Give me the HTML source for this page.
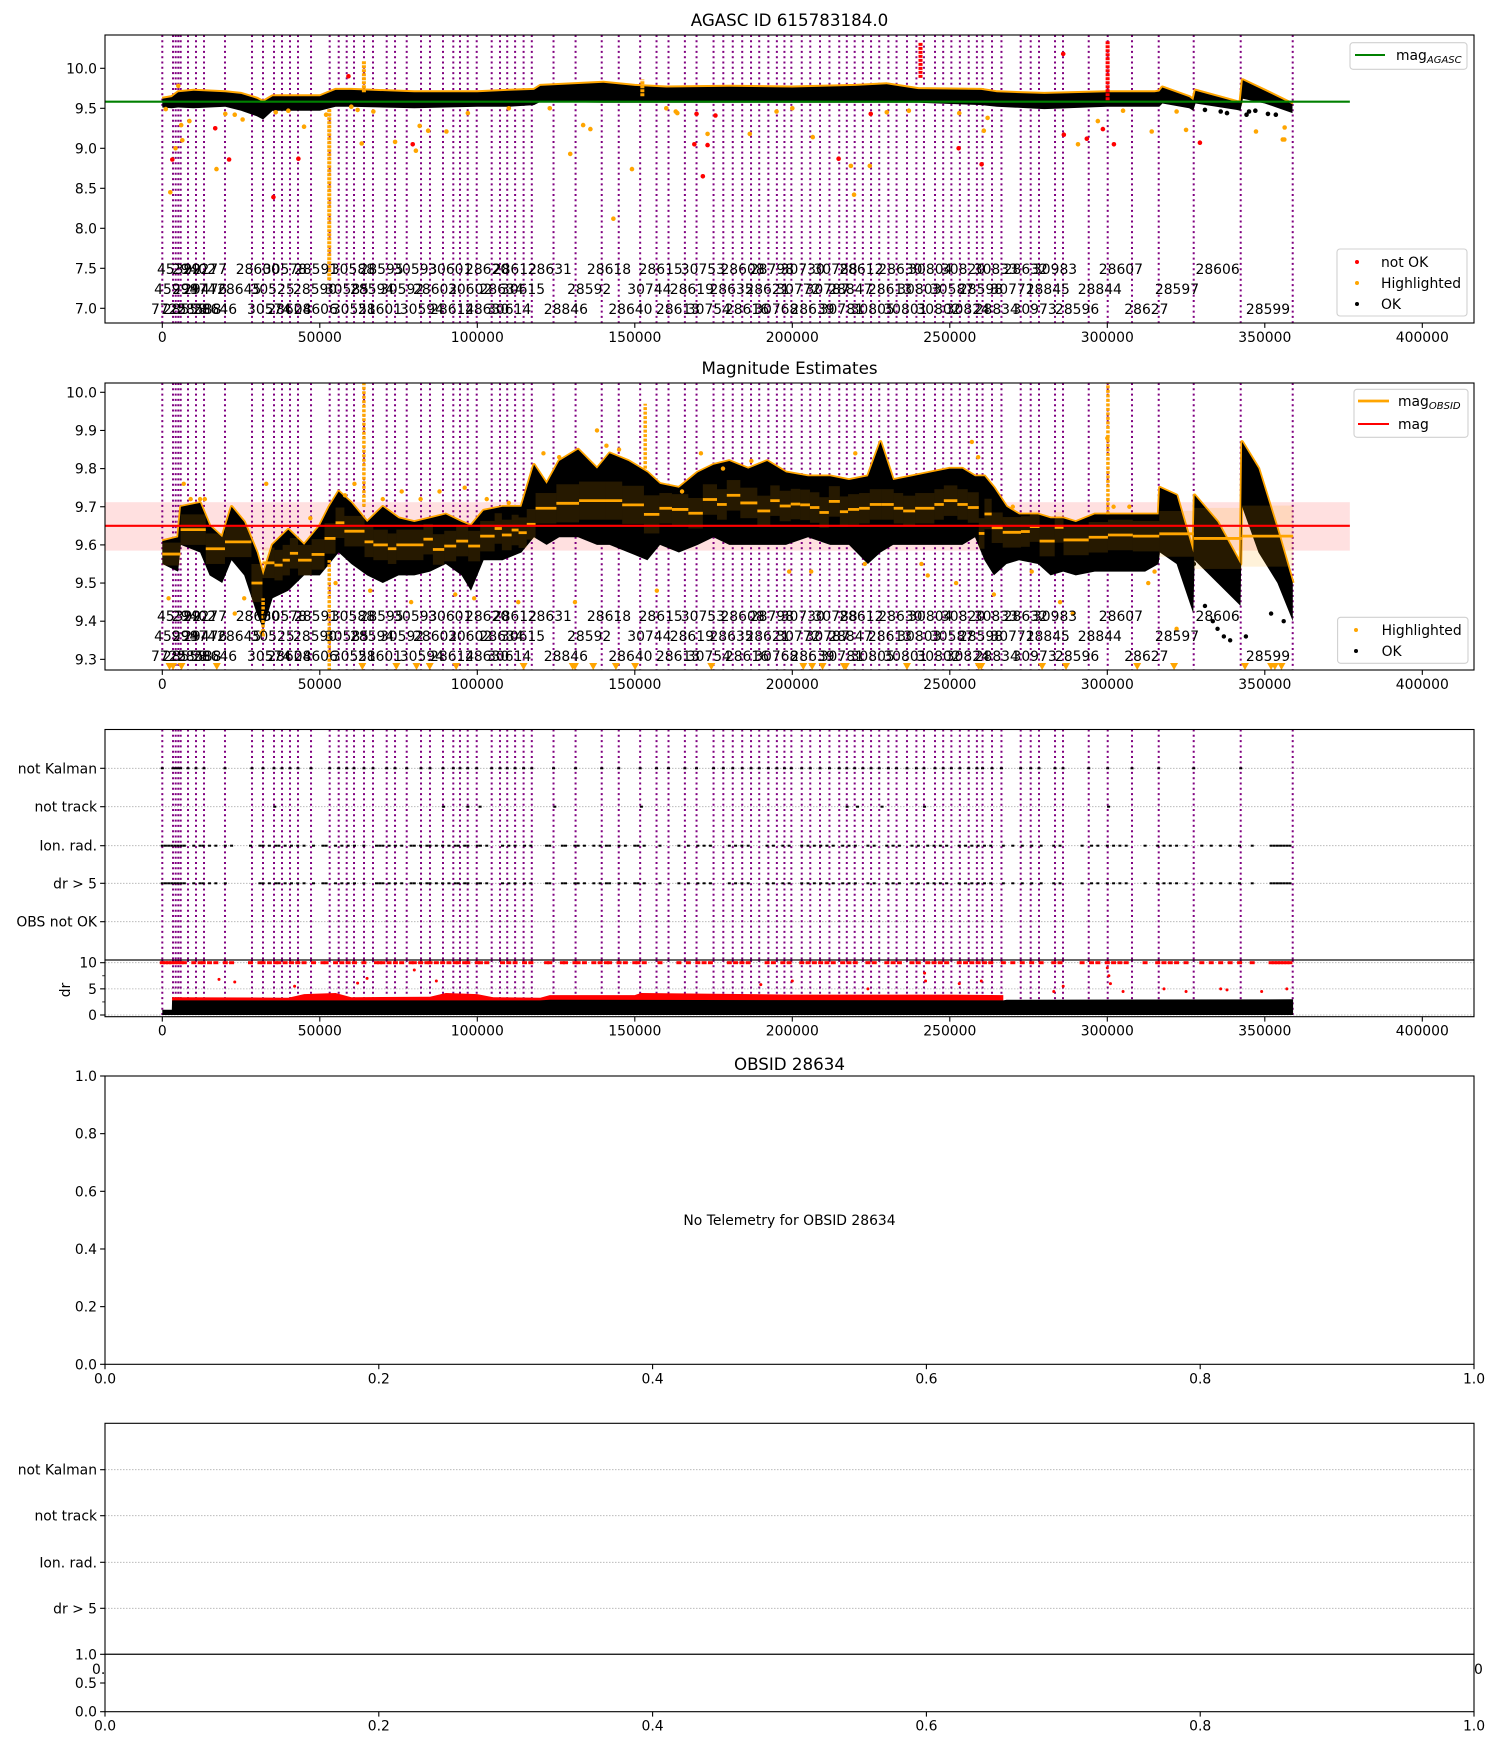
<!DOCTYPE html>
<html><head><meta charset="utf-8"><style>
html,body{margin:0;padding:0;background:#fff;}
svg text{font-family:"DejaVu Sans","Liberation Sans",sans-serif;}
</style></head><body>
<svg id="fig" xmlns="http://www.w3.org/2000/svg" width="1500" height="1750" viewBox="0 0 1500 1750">
<defs>
<clipPath id="c1"><rect x="105" y="35" width="1369" height="288"/></clipPath>
<clipPath id="c2"><rect x="105" y="383" width="1369" height="287"/></clipPath>
<clipPath id="c3a"><rect x="105" y="729.5" width="1369" height="230.5"/></clipPath>
<clipPath id="c3b"><rect x="105" y="960" width="1369" height="56.7"/></clipPath>
</defs>
<g id="layer"></g>
</svg>
<script>
// ---------- data ----------
const boundaries = [0,3400,4250,5080,5840,8160,10700,13240,19900,28480,31970,35460,38000,40540,43080,47210,53140,56000,58540,60860,64030,66890,71240,73880,77590,82130,84980,89110,92380,94510,96950,99810,104570,107210,109500,112000,114700,117300,124200,131200,139500,144900,151700,156900,160700,165900,169600,175000,178100,181100,184100,186900,189500,192400,195100,197500,199700,203000,205700,208800,211800,214900,217300,219800,222400,225000,227600,230500,233100,236400,239400,241800,245300,247900,250500,253200,256000,258600,260400,263400,266400,272510,275680,278320,283400,285940,294100,300130,307840,316320,327430,342350,358860];
const obsLabels = ["45392","29402","29277","28600","30578","28591","30588","28595","30593","30601","28620","28612","28631","28618","28615","30753","28608","28798","30730","30788","28612","28630","30804","30820","30833","28632","30983","28607","28606",
"45994","29974","29476","28645","30525","28590","30585","28594","30592","28602","30602","28634","30615","28592","30744","28619","28635","28621","30772","30787","28847","28613","30803","30587","28598","30771","28845","28844","28597",
"7725","28558","28588","28646","30574","28604","28606","30551","28601","30594","28614","28630","30614","28846","28640","28613","30754","28616","30768","28639","30781","30805","30801","30802","30824","28834","30973","28596","28627","28599"];
const labelT = [-1700,3000,6500,23300,31900,41800,53500,62600,73300,84400,96100,104900,116000,134800,151200,164600,177200,186500,196300,206700,214900,227300,236800,247200,257600,267100,276400,297300,328000,
-2600,3100,6600,17400,28000,41500,51600,59600,69100,79600,90700,100700,107500,128500,147600,161100,173700,185100,194900,204200,211400,224000,233300,243700,252900,262900,274100,290600,315100,
-3600,200,4700,9700,26900,33300,41700,53800,62100,75400,85000,96100,103100,121100,141600,156700,166500,178600,187900,199400,208700,218500,228900,239400,248700,257900,269900,283400,305400,344000];
const labelRow = [0,0,0,0,0,0,0,0,0,0,0,0,0,0,0,0,0,0,0,0,0,0,0,0,0,0,0,0,0,
1,1,1,1,1,1,1,1,1,1,1,1,1,1,1,1,1,1,1,1,1,1,1,1,1,1,1,1,1,
2,2,2,2,2,2,2,2,2,2,2,2,2,2,2,2,2,2,2,2,2,2,2,2,2,2,2,2,2,2];
const xTicks = [0,50000,100000,150000,200000,250000,300000,350000,400000];

// panel 1 (AGASC)
const magAgasc = 9.583;
const p1BandT  = [0,3000,5000,10000,20000,25000,30000,32000,35000,50000,55000,60000,80000,100000,110000,118000,120000,140000,150000,160000,180000,200000,220000,230000,240000,260000,265000,280000,300000,315000,316500,317500,326000,327300,328000,341000,342300,343000,350000,358800];
const p1BandLo = [9.51,9.50,9.51,9.50,9.52,9.47,9.40,9.36,9.47,9.47,9.52,9.52,9.50,9.52,9.52,9.54,9.58,9.57,9.57,9.57,9.57,9.57,9.57,9.57,9.57,9.54,9.52,9.49,9.52,9.52,9.52,9.56,9.50,9.47,9.56,9.48,9.47,9.62,9.56,9.44];
const p1BandHi = [9.62,9.64,9.70,9.72,9.70,9.68,9.62,9.58,9.65,9.65,9.73,9.73,9.70,9.70,9.72,9.73,9.78,9.82,9.78,9.76,9.77,9.76,9.78,9.80,9.74,9.73,9.70,9.68,9.70,9.70,9.71,9.76,9.64,9.60,9.72,9.58,9.57,9.85,9.72,9.55];
const p1OrangeT = [1100,2540,4200,5080,6350,6000,8600,17200,20000,23000,25500,36000,40000,45000,52000,62000,63300,67000,73900,80500,81700,84400,90200,97000,129500,133600,135900,143200,149100,163000,163500,173100,186500,195000,206500,218600,219600,224600,237000,260800,262000,290700,297000,314100,325000,347200,355700,356200,356300,60000,110000,123000,160000,200000,230000,253000,305000,322000];
const p1OrangeM = [9.49,8.45,9.0,9.78,9.1,9.29,9.34,8.74,9.43,9.42,9.36,9.45,9.47,9.27,9.42,9.48,9.06,9.46,9.08,8.97,9.28,9.22,9.21,9.44,8.93,9.29,9.24,8.12,8.74,9.46,9.44,9.18,9.18,9.46,9.14,8.78,8.42,8.78,9.47,9.22,9.38,9.05,9.34,9.21,9.23,9.21,9.11,9.11,9.26,9.52,9.5,9.5,9.5,9.5,9.45,9.44,9.47,9.46];
const p1RedT = [3180,16800,21200,35280,43200,59100,79500,168900,169600,171600,173100,175600,214700,224900,252800,260100,286000,286200,293500,298600,302100,329400];
const p1RedM = [8.86,9.25,8.86,8.39,8.87,9.9,9.05,9.05,9.43,8.65,9.04,9.41,8.87,9.43,9.0,8.8,10.18,9.17,9.12,9.24,9.05,9.07];
const p1BlackT = [331000,336000,338000,344200,345000,347000,351000,353500];
const p1BlackM = [9.48,9.46,9.44,9.42,9.46,9.47,9.43,9.42];
const p1SpikeT = [53000,64000,240700,300100,152400];
const p1SpikeLo = [7.35,9.7,9.88,9.6,9.65];
const p1SpikeHi = [9.5,10.1,10.32,10.35,9.86];
const p1SpikeRed = [0,0,1,1,0];

// panel 2 (magnitude estimates)
const magMean = 9.650, magLo = 9.585, magHi = 9.712, magLineEnd = 377000;
const p2BandT  = [0,5000,5900,12000,15000,19000,22000,26000,30000,32000,35000,40000,45000,50000,53000,56000,60000,65000,70000,75000,80000,85000,90000,95000,98000,102000,108000,114000,118000,122000,126000,132000,138000,142000,148000,154000,158000,164000,170000,175000,180000,186000,192000,198000,205000,212000,218000,224000,228000,232000,238000,244000,250000,254000,258000,261000,264000,268000,272000,278000,282000,286000,290000,296000,305000,312000,316300,316700,322000,327300,327700,335000,342300,342800,348000,354000,358900];
const p2BandLo = [9.55,9.53,9.60,9.58,9.52,9.50,9.56,9.52,9.42,9.38,9.46,9.48,9.52,9.52,9.55,9.58,9.55,9.52,9.50,9.52,9.52,9.53,9.55,9.52,9.48,9.56,9.56,9.58,9.62,9.60,9.62,9.62,9.60,9.60,9.58,9.56,9.60,9.58,9.60,9.62,9.60,9.60,9.60,9.60,9.62,9.60,9.60,9.55,9.58,9.60,9.60,9.60,9.60,9.60,9.62,9.56,9.52,9.55,9.56,9.55,9.52,9.53,9.52,9.53,9.53,9.53,9.55,9.58,9.55,9.42,9.56,9.50,9.44,9.70,9.58,9.50,9.40];
const p2BandHi = [9.61,9.62,9.70,9.71,9.65,9.62,9.70,9.66,9.58,9.52,9.60,9.64,9.60,9.65,9.70,9.74,9.71,9.66,9.70,9.67,9.66,9.67,9.68,9.66,9.65,9.69,9.70,9.70,9.81,9.76,9.82,9.85,9.80,9.84,9.82,9.79,9.76,9.75,9.79,9.81,9.82,9.80,9.82,9.79,9.78,9.78,9.77,9.78,9.87,9.77,9.78,9.79,9.80,9.80,9.78,9.78,9.75,9.70,9.68,9.68,9.67,9.67,9.66,9.68,9.68,9.68,9.68,9.75,9.73,9.58,9.73,9.66,9.55,9.87,9.80,9.64,9.50];
const medBreaks = [0,5.8,13.8,19.9,28.3,31.8,35.6,38.2,40.5,43.1,47.4,51.5,55.0,57.8,64.2,67.0,71.6,74.3,82.9,85.9,89.5,93.3,97.1,100.9,105.5,107.8,110.9,113.1,115.7,118.5,125.1,132.3,140.7,146.0,152.9,157.8,161.8,167.0,171.6,176.1,179.2,183.5,188.9,193.0,196.0,199.5,202.5,205.6,208.6,211.6,215.1,217.7,221.2,224.6,228.4,232.2,235.2,239.0,245.1,248.1,252.4,255.7,259.2,261.0,263.3,266.8,272.6,275.4,278.5,283.3,286.1,294.1,300.2,308.1,316.5,327.5,342.6,359.0];
const medVals = [9.576,9.64,9.59,9.608,9.50,9.553,9.547,9.56,9.578,9.56,9.575,9.617,9.658,9.636,9.608,9.60,9.59,9.60,9.615,9.588,9.597,9.61,9.597,9.623,9.643,9.626,9.639,9.632,9.654,9.696,9.709,9.716,9.716,9.705,9.68,9.696,9.693,9.683,9.719,9.706,9.73,9.71,9.689,9.716,9.702,9.707,9.705,9.698,9.685,9.714,9.687,9.693,9.696,9.706,9.706,9.696,9.689,9.696,9.706,9.716,9.706,9.698,9.63,9.681,9.645,9.633,9.635,9.648,9.61,9.646,9.613,9.62,9.626,9.623,9.629,9.617,9.623];
const medSd = [0.03,0.04,0.04,0.04,0.05,0.04,0.04,0.04,0.04,0.04,0.04,0.04,0.04,0.04,0.04,0.04,0.04,0.04,0.04,0.04,0.04,0.04,0.04,0.04,0.04,0.04,0.04,0.04,0.04,0.04,0.05,0.05,0.05,0.05,0.05,0.04,0.04,0.04,0.04,0.04,0.04,0.04,0.04,0.04,0.04,0.04,0.04,0.04,0.04,0.04,0.04,0.04,0.04,0.04,0.04,0.04,0.04,0.04,0.04,0.04,0.04,0.04,0.04,0.04,0.04,0.04,0.04,0.04,0.04,0.04,0.04,0.04,0.04,0.04,0.06,0.08,0.08];
const p2OrangeT = [2000,6800,9000,12000,13500,23000,26000,31500,33000,47000,55000,58000,61000,66000,70000,76000,79000,82000,88000,93000,96000,99000,103000,110000,113000,121000,126000,131000,138000,141000,145000,157000,165000,171000,178000,187000,199000,206000,220000,223000,241000,243000,252000,257000,259000,264000,270000,276000,285000,289000,300000,302000,307000,313000,315000,322000];
const p2OrangeM = [9.46,9.76,9.72,9.72,9.72,9.42,9.46,9.37,9.76,9.67,9.5,9.73,9.76,9.48,9.72,9.74,9.45,9.72,9.74,9.47,9.75,9.46,9.72,9.71,9.45,9.84,9.83,9.45,9.90,9.86,9.85,9.48,9.74,9.84,9.80,9.82,9.53,9.53,9.84,9.55,9.55,9.52,9.50,9.87,9.83,9.47,9.70,9.53,9.45,9.42,9.88,9.70,9.70,9.50,9.53,9.38];
const p2SpikeT = [64000,153300,53000,300200,32000];
const p2SpikeLo = [9.70,9.80,9.27,9.68,9.36];
const p2SpikeHi = [10.03,9.97,9.56,10.03,9.46];
const p2TriT = [2300,3400,6100,17300,63500,74300,80700,84900,93300,114700,130300,131000,136800,144000,150100,174300,203500,206300,209600,216400,217000,236400,259200,260000,279300,286900,309500,321200,343700,352000,353200,355300];
const p2BlackT = [327500,331000,333500,335000,337000,339000,344000,352000,356000];
const p2BlackM = [9.55,9.44,9.40,9.38,9.36,9.35,9.36,9.42,9.40];

// panel 3 (flags + dr)
const flagRows = ["not Kalman","not track","Ion. rad.","dr > 5","OBS not OK"];
const notTrackT = [35700,89300,97000,100900,124600,152100,217400,220700,228500,242000,300400];
const ionK = [0,1,2,3,4,5,6,7,10,12,13,15,17,20,22,28,31,32,34,36,37,39,41,43,45,48,51,52,55,57,59,61,64,68,69,70,72,74,76,79,80,82,84,85,87,89,91,93,94,96,97,100,101,103,108,110,112,115,117,122,123,127,128,131,132,134,137,139,141,142,145,147,150,151,153,158,164,167,170,172,174,180,182,184,186,192,194,197,199,203,205,207,209,211,213,216,218,220,224,226,230,232,234,238,240,243,245,247,249,253,255,257,259,261,263,267,270,273,276,279,283,285,292,295,297,300,302,304,306,312,316,318,320,322,325,330,333,336,339,342,346,352,353,354,355,356,357,358];
const drFlagK = [0,1,2,3,4,5,6,7,10,12,13,15,17,20,31,32,34,36,37,39,41,43,45,48,51,52,55,57,59,61,64,68,69,70,72,74,76,79,80,82,84,85,87,89,91,93,94,96,97,100,101,103,108,110,112,115,117,122,123,127,128,131,132,134,137,139,141,142,145,147,150,151,153,158,164,167,170,172,174,180,182,184,186,192,194,197,199,203,205,207,209,211,213,216,218,220,224,226,230,232,234,238,240,243,245,247,249,253,255,257,259,261,263,267,270,273,276,279,283,285,292,295,297,300,302,304,306,312,316,318,320,322,325,330,333,336,339,342,346,352,353,354,355,356,357,358];
const drBlackT = [0,3000,3100,120000,123000,267000,268000,359000];
const drBlackHi = [1.0,1.0,2.8,2.8,2.9,2.8,2.9,3.0];
const drRedT  = [3100,40000,45000,55000,60000,85000,90000,100000,105000,120000,123000,150000,152000,200000,250000,267000];
const drRedHi = [3.4,3.3,4.0,4.2,3.4,3.5,4.2,4.0,3.4,3.3,3.8,3.8,4.2,3.9,3.9,3.8];
const drRedPtsT = [18000,23000,42000,62000,80000,87000,65000,190000,200000,224000,242000,242300,253000,260000,283000,286000,300000,300500,301000,305000,318000,325000,336000,338000,349000,357000];
const drRedPtsV = [6.8,6.3,5.5,6.1,8.6,6.5,7.0,5.8,6.5,5.0,8.0,6.5,6.0,6.5,4.5,5.5,9.0,7.5,6.0,4.5,5.0,4.5,5.0,4.8,4.5,5.0];
const drTicks = [0,5,10];

// panel 4/5
const unitTicks = [0,0.2,0.4,0.6,0.8,1.0];
const smallTicks = [0,0.5,1.0];
const p5Rows = ["not Kalman","not track","Ion. rad.","dr > 5"];

// ---------- helpers ----------
const NS = "http://www.w3.org/2000/svg";
const root = document.getElementById('layer');
function el(tag, attrs, parent){
  const e = document.createElementNS(NS, tag);
  for (const k in attrs) e.setAttribute(k, attrs[k]);
  (parent||root).appendChild(e);
  return e;
}
function txt(s, x, y, attrs, parent){
  const t = el('text', Object.assign({x:x, y:y, 'font-size':'13.9px', fill:'#000'}, attrs||{}), parent);
  t.textContent = s;
  return t;
}
const AX0 = 105, AX1 = 1474;
const X = t => 162.3 + t*157.5/50000;
const Y1 = m => 68.3 + (10-m)*80;
const Y2 = m => 392.3 + (10-m)*381.5;
const YD = v => 1015 - v*5.23;
const ROW3 = [768.3,806.7,845.7,883.3,921.7];

function frame(name, x0, y0, x1, y1){
  const r = el('rect', {x:x0, y:y0, width:x1-x0, height:y1-y0, fill:'none', stroke:'#000', 'stroke-width':1.1});
  
  
}
function xAxisTicks(g, ybot, ticks, fx, fmt){
  ticks.forEach(v=>{
    const x = fx(v);
    const tk = el('line', {x1:x, x2:x, y1:ybot, y2:ybot+4.9, stroke:'#000', 'stroke-width':1.1}, g);
    
    
    const t = txt(fmt(v), x, ybot+19, {'text-anchor':'middle'}, g);
    
    
  });
}
function yTick(g, y, label){
  const tk = el('line', {x1:AX0-4.9, x2:AX0, y1:y, y2:y, stroke:'#000', 'stroke-width':1.1}, g);
  
  
  const t = txt(label, AX0-8, y+5, {'text-anchor':'end'}, g);
  
  
}
function vlines(g, y0, y1){
  boundaries.forEach(b=>{
    const l = el('line', {x1:X(b), x2:X(b), y1:y0, y2:y1, stroke:'#800080', 'stroke-width':2, 'stroke-dasharray':'2,3.3'}, g);
    
    
  });
}
function obsLabelsDraw(g, rowsY){
  obsLabels.forEach((s,i)=>{
    const t = txt(s, X(labelT[i]), rowsY[labelRow[i]], {}, g);
    
    
  });
}
function bandPath(T, LO, HI, fx, fy){
  let d = '';
  T.forEach((t,i)=>{ d += (i?'L':'M') + fx(t).toFixed(1) + ',' + fy(HI[i]).toFixed(1); });
  for (let i=T.length-1;i>=0;i--) d += 'L' + fx(T[i]).toFixed(1) + ',' + fy(LO[i]).toFixed(1);
  return d + 'Z';
}
function topEdge(T, HI, fx, fy){
  let d = '';
  T.forEach((t,i)=>{ d += (i?'L':'M') + fx(t).toFixed(1) + ',' + fy(HI[i]).toFixed(1); });
  return d;
}
function dots(g, T, M, fy, color, r, name){
  T.forEach((t,i)=>{
    const c = el('circle', {cx:X(t), cy:fy(M[i]), r:r, fill:color}, g);
    
    
  });
}
function legendBox(x0,y0,x1,y1,name){
  const r = el('rect', {x:x0, y:y0, width:x1-x0, height:y1-y0, rx:3, fill:'#fff', 'fill-opacity':0.85, stroke:'#d0d0d0', 'stroke-width':1.1});
  
  
}

// ---------- panel 1 ----------
const t1 = txt('AGASC ID 615783184.0', 789.5, 26, {'text-anchor':'middle','font-size':'16.7px'});


const g1 = el('g', {'clip-path':'url(#c1)'});


vlines(g1, 35, 323);
const rim1 = el('path', {d:topEdge(p1BandT,p1BandHi,X,Y1), fill:'none', stroke:'#ffa500', 'stroke-width':4, 'stroke-linejoin':'round'}, g1);


const band1 = el('path', {d:bandPath(p1BandT,p1BandLo,p1BandHi,X,Y1), fill:'#000'}, g1);


p1SpikeT.forEach((t,i)=>{
  const l = el('line', {x1:X(t), x2:X(t), y1:Y1(p1SpikeLo[i]), y2:Y1(p1SpikeHi[i]), stroke:p1SpikeRed[i]?'#ff0000':'#ffa500', 'stroke-width':4, 'stroke-dasharray':'3,1'}, g1);
  
  
});
dots(g1, p1OrangeT, p1OrangeM, Y1, '#ffa500', 2.3, 'highlighted-point');
dots(g1, p1RedT, p1RedM, Y1, '#ff0000', 2.3, 'not-ok-point');
dots(g1, p1BlackT, p1BlackM, Y1, '#000', 2.3, 'ok-point');
const gl = el('line', {x1:AX0, x2:X(magLineEnd), y1:Y1(magAgasc), y2:Y1(magAgasc), stroke:'#008000', 'stroke-width':2.1}, g1);


obsLabelsDraw(g1, [274, 294, 314]);
frame('agasc-axes', AX0, 35, AX1, 323);
const ga1 = el('g', {});


xAxisTicks(ga1, 323, xTicks, X, v=>String(v));
[7.0,7.5,8.0,8.5,9.0,9.5,10.0].forEach(v=>yTick(ga1, Y1(v), v.toFixed(1)));
legendBox(1350,42.7,1467,69.3,'agasc-legend');
el('line',{x1:1355,x2:1385,y1:55,y2:55,stroke:'#008000','stroke-width':2.1});
const lg1 = el('text',{x:1396,y:60,'font-size':'13.9px'});


lg1.innerHTML = 'mag<tspan font-size="10px" font-style="italic" dy="3">AGASC</tspan>';
legendBox(1337,249,1467,316,'status-legend');
[['#ff0000','not OK',262],['#ffa500','Highlighted',283],['#000','OK',304]].forEach(e=>{
  el('circle',{cx:1357,cy:e[2],r:2,fill:e[0]});
  const t = txt(e[1],1381,e[2]+5);
  
  
});

// ---------- panel 2 ----------
const t2 = txt('Magnitude Estimates', 789.5, 374, {'text-anchor':'middle','font-size':'16.7px'});


const g2 = el('g', {'clip-path':'url(#c2)'});


const pink = el('rect', {x:AX0, y:Y2(magHi), width:X(magLineEnd)-AX0, height:Y2(magLo)-Y2(magHi), fill:'#ff0000', 'fill-opacity':0.12}, g2);


vlines(g2, 383, 670);
const rim2 = el('path', {d:topEdge(p2BandT,p2BandHi,X,Y2), fill:'none', stroke:'#ffa500', 'stroke-width':3.5, 'stroke-linejoin':'round'}, g2);


const band2 = el('path', {d:bandPath(p2BandT,p2BandLo,p2BandHi,X,Y2), fill:'#000'}, g2);


p2SpikeT.forEach((t,i)=>{
  const l = el('line', {x1:X(t), x2:X(t), y1:Y2(p2SpikeLo[i]), y2:Y2(p2SpikeHi[i]), stroke:'#ffa500', 'stroke-width':3.5, 'stroke-dasharray':'3,1.5'}, g2);
  
  
});
dots(g2, p2OrangeT, p2OrangeM, Y2, '#ffa500', 2.2, 'highlighted-point');
dots(g2, p2BlackT, p2BlackM, Y2, '#000', 2.2, 'ok-point');
const nSeg = Math.min(medVals.length, medBreaks.length-1, medSd.length);
for (let i=0;i<nSeg;i++){
  const x0 = X(medBreaks[i]*1000), x1 = X(medBreaks[i+1]*1000);
  const r = el('rect', {x:x0, y:Y2(medVals[i]+medSd[i]), width:x1-x0, height:Y2(medVals[i]-medSd[i])-Y2(medVals[i]+medSd[i]), fill:'#ffa500', 'fill-opacity':0.15}, g2);
  
  
  const l = el('line', {x1:x0, x2:x1, y1:Y2(medVals[i]), y2:Y2(medVals[i]), stroke:'#ffa500', 'stroke-width':2.8}, g2);
  
  
}
const rl = el('line', {x1:AX0, x2:X(magLineEnd), y1:Y2(magMean), y2:Y2(magMean), stroke:'#ff0000', 'stroke-width':2.1}, g2);


p2TriT.forEach(t=>{
  const x = X(t), y = 667;
  const p = el('path', {d:`M${x-4},${y-4}L${x+4},${y-4}L${x},${y+3}Z`, fill:'#ffa500'}, g2);
  
  
});
obsLabelsDraw(g2, [621, 641, 661]);
frame('magnitude-axes', AX0, 383, AX1, 670);
const ga2 = el('g', {});


xAxisTicks(ga2, 670, xTicks, X, v=>String(v));
[9.3,9.4,9.5,9.6,9.7,9.8,9.9,10.0].forEach(v=>yTick(ga2, Y2(v), v.toFixed(1)));
legendBox(1354,389.3,1468,437.3,'magnitude-legend');
el('line',{x1:1358,x2:1389,y1:401,y2:401,stroke:'#ffa500','stroke-width':2.8});
const lg2 = el('text',{x:1398,y:406,'font-size':'13.9px'});


lg2.innerHTML = 'mag<tspan font-size="10px" font-style="italic" dy="3">OBSID</tspan>';
el('line',{x1:1358,x2:1389,y1:424,y2:424,stroke:'#ff0000','stroke-width':2.1});
const lg3 = txt('mag',1398,429);


legendBox(1337.6,617.3,1468,663.3,'status-legend-2');
[['#ffa500','Highlighted',630],['#000','OK',651]].forEach(e=>{
  el('circle',{cx:1356,cy:e[2],r:2,fill:e[0]});
  const t = txt(e[1],1381.6,e[2]+5);
  
  
});

// ---------- panel 3 ----------
const g3 = el('g', {'clip-path':'url(#c3a)'});


ROW3.forEach(y=>el('line',{x1:AX0,x2:AX1,y1:y,y2:y,stroke:'#b0b0b0','stroke-width':0.8,'stroke-dasharray':'1.5,1.5'},g3));
vlines(g3, 729.5, 960);
function flagMarks(T, row, name){
  T.forEach(t=>{
    const r = el('rect',{x:X(t)-1.5,y:ROW3[row]-1,width:3,height:2,fill:'#000'},g3);
    
    
  });
}
flagMarks(boundaries.slice(0,boundaries.length-1), 0, 'not-kalman-mark');
flagMarks(notTrackT, 1, 'not-track-mark');
flagMarks(ionK.map(k=>k*1000), 2, 'ion-rad-mark');
flagMarks(drFlagK.map(k=>k*1000), 3, 'dr-flag-mark');
frame('flags-axes', AX0, 729.5, AX1, 960);
flagRows.forEach((s,i)=>{
  el('line',{x1:AX0-4.9,x2:AX0,y1:ROW3[i],y2:ROW3[i],stroke:'#000','stroke-width':1.1});
  const t = txt(s, AX0-8, ROW3[i]+5, {'text-anchor':'end'});
  
  
});
const g3b = el('g', {'clip-path':'url(#c3b)'});


drTicks.forEach(v=>el('line',{x1:AX0,x2:AX1,y1:YD(v),y2:YD(v),stroke:'#b0b0b0','stroke-width':0.8,'stroke-dasharray':'1.5,1.5'},g3b));
vlines(g3b, 960, 1017);
const redPoly = bandPath(drRedT, drRedT.map(()=>2.5), drRedHi, X, YD);
const rp = el('path',{d:redPoly,fill:'#ff0000'},g3b);


const bp = el('path',{d:bandPath(drBlackT, drBlackT.map(()=>0), drBlackHi, X, YD),fill:'#000'},g3b);


dots(g3b, drRedPtsT, drRedPtsV, YD, '#ff0000', 1.5, 'dr-outlier');
ionK.forEach(k=>{
  const r = el('rect',{x:X(k*1000)-2.5,y:YD(10)-1.5,width:5,height:3,fill:'#ff0000'},g3b);
  
  
});
frame('dr-axes', AX0, 960, AX1, 1016.7);
const ga3 = el('g', {});


xAxisTicks(ga3, 1016.7, xTicks, X, v=>String(v));
drTicks.forEach(v=>yTick(ga3, YD(v), String(v)));
[2.5,7.5].forEach(v=>el('line',{x1:AX0-2.8,x2:AX0,y1:YD(v),y2:YD(v),stroke:'#000','stroke-width':0.8}));
const drl = txt('dr', 70, 990, {'text-anchor':'middle', transform:'rotate(-90 70 990)'});



// ---------- panel 4 ----------
const t4 = txt('OBSID 28634', 789.5, 1070, {'text-anchor':'middle','font-size':'16.7px'});


frame('obsid-axes', AX0, 1076, AX1, 1364.3);
const U4 = v => 1364.3 - v*288.3;
const UX = v => AX0 + v*(AX1-AX0);
const ga4 = el('g', {});


xAxisTicks(ga4, 1364.3, unitTicks, UX, v=>v.toFixed(1));
unitTicks.forEach(v=>yTick(ga4, U4(v), v.toFixed(1)));
const nt = txt('No Telemetry for OBSID 28634', 789.5, 1225, {'text-anchor':'middle'});



// ---------- panel 5 ----------
const P5 = [1469.7,1515.7,1562.3,1608.3];
p5Rows.forEach((s,i)=>{
  el('line',{x1:AX0,x2:AX1,y1:P5[i],y2:P5[i],stroke:'#b0b0b0','stroke-width':0.8,'stroke-dasharray':'1.5,1.5'});
  el('line',{x1:AX0-4.9,x2:AX0,y1:P5[i],y2:P5[i],stroke:'#000','stroke-width':1.1});
  const t = txt(s, AX0-8, P5[i]+5, {'text-anchor':'end'});
  
  
});
frame('flags-axes-2', AX0, 1423.3, AX1, 1654.3);
const c1 = txt('0.', 92, 1674);


const c2 = txt('0', 1474, 1674);


const wb = el('rect',{x:AX0,y:1654.3,width:AX1-AX0,height:57.4,fill:'#fff'});
frame('dr-axes-2', AX0, 1654.3, AX1, 1711.7);
const S5 = v => 1711.7 - v*57.4;
const ga5 = el('g', {});


xAxisTicks(ga5, 1711.7, unitTicks, UX, v=>v.toFixed(1));
smallTicks.forEach(v=>yTick(ga5, S5(v), v.toFixed(1)));
</script>
</body></html>
